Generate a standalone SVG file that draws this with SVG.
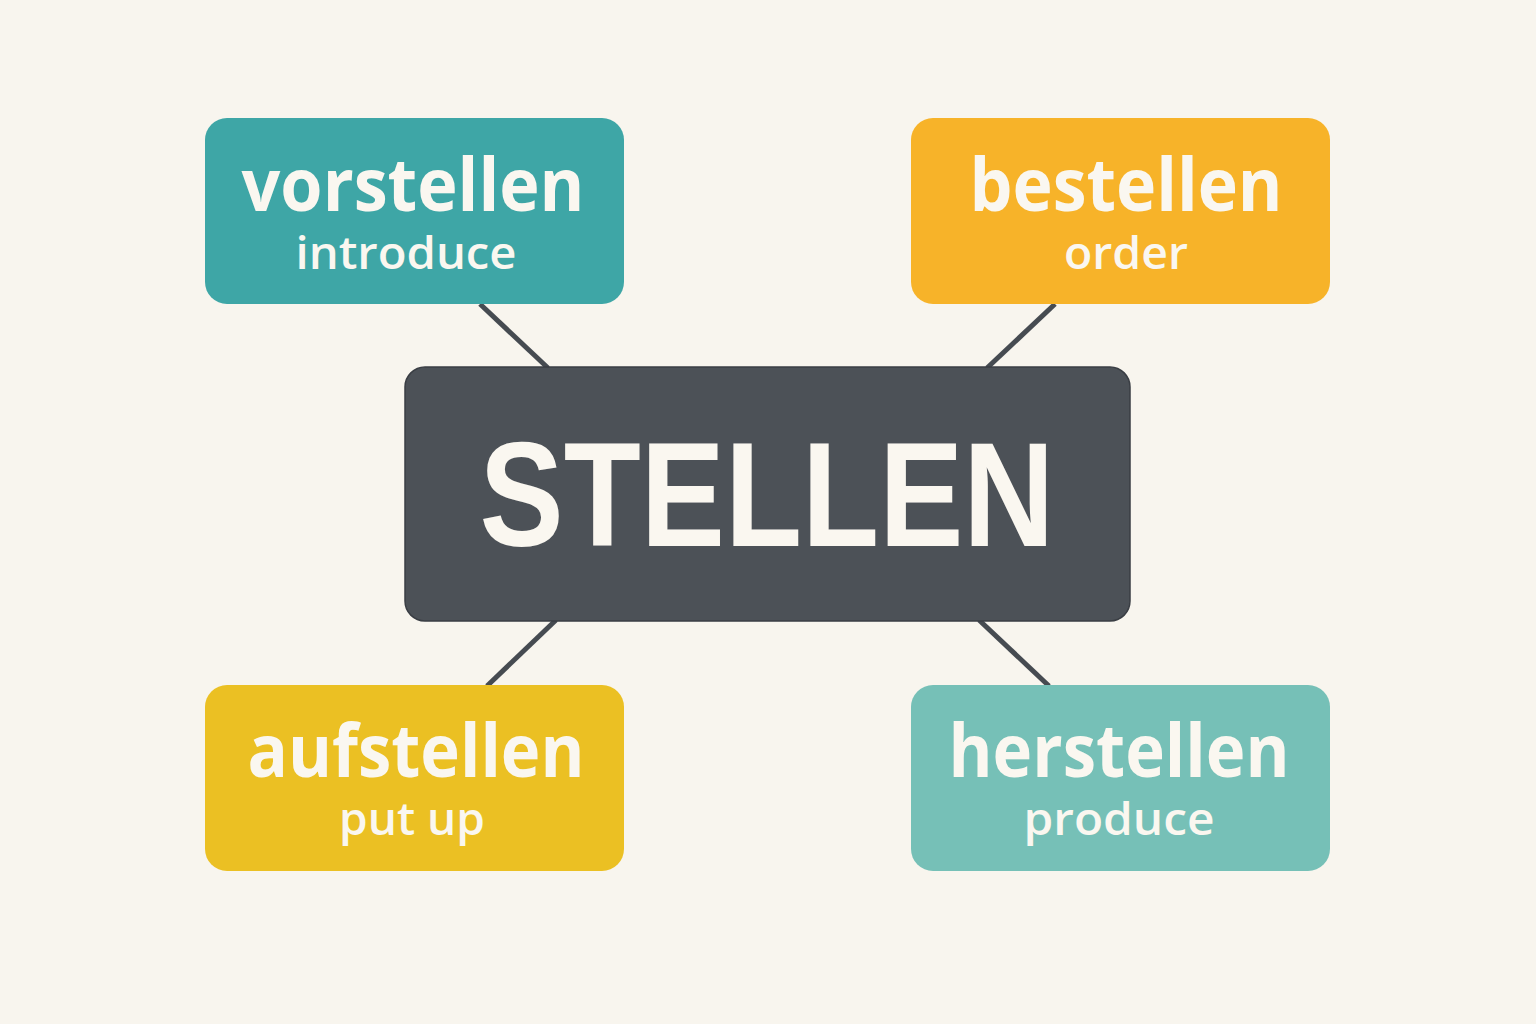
<svg xmlns="http://www.w3.org/2000/svg" width="1536" height="1024" viewBox="0 0 1536 1024">
<style>
.bg{fill:#F8F5EE}
.conn line{stroke:#464b51;stroke-width:5;stroke-linecap:butt}
.t{font-family:"Open Sans","Liberation Sans",sans-serif;fill:#FAF7F0;text-anchor:middle}
.w{font-weight:700;font-size:74px}
.s{font-weight:600;font-size:45px}
.c{font-family:"Liberation Sans",Arial,sans-serif;font-weight:700;font-size:148px;fill:#FAF7F0;text-anchor:middle}
</style>
<rect class="bg" x="0" y="0" width="1536" height="1024"/>
<g id="connectors" class="conn">
<line x1="480" y1="304" x2="548" y2="368"/>
<line x1="1055" y1="304" x2="987" y2="368"/>
<line x1="556" y1="620" x2="487" y2="686"/>
<line x1="979" y1="620" x2="1049" y2="686"/>
</g>
<g id="center">
<rect x="405" y="367" width="725" height="254" rx="20" fill="#4C5157" stroke="#3a3e44" stroke-width="1.5"/>
<text class="c" x="767" y="546" textLength="575" lengthAdjust="spacingAndGlyphs">STELLEN</text>
</g>
<g id="vorstellen">
<rect x="205" y="118" width="419" height="186" rx="22" fill="#3EA6A6"/>
<text class="t w" x="413" y="211" textLength="343" lengthAdjust="spacingAndGlyphs">vorstellen</text>
<text class="t s" x="406" y="269" textLength="221" lengthAdjust="spacingAndGlyphs">introduce</text>
</g>
<g id="bestellen">
<rect x="911" y="118" width="419" height="186" rx="22" fill="#F7B329"/>
<text class="t w" x="1126" y="211" textLength="313" lengthAdjust="spacingAndGlyphs">bestellen</text>
<text class="t s" x="1126" y="269" textLength="124" lengthAdjust="spacingAndGlyphs">order</text>
</g>
<g id="aufstellen">
<rect x="205" y="685" width="419" height="186" rx="22" fill="#EBC023"/>
<text class="t w" x="416" y="777" textLength="337" lengthAdjust="spacingAndGlyphs">aufstellen</text>
<text class="t s" x="412" y="835" textLength="146" lengthAdjust="spacingAndGlyphs">put up</text>
</g>
<g id="herstellen">
<rect x="911" y="685" width="419" height="186" rx="22" fill="#76C0B7"/>
<text class="t w" x="1119" y="777" textLength="341" lengthAdjust="spacingAndGlyphs">herstellen</text>
<text class="t s" x="1119" y="835" textLength="191" lengthAdjust="spacingAndGlyphs">produce</text>
</g>
</svg>
